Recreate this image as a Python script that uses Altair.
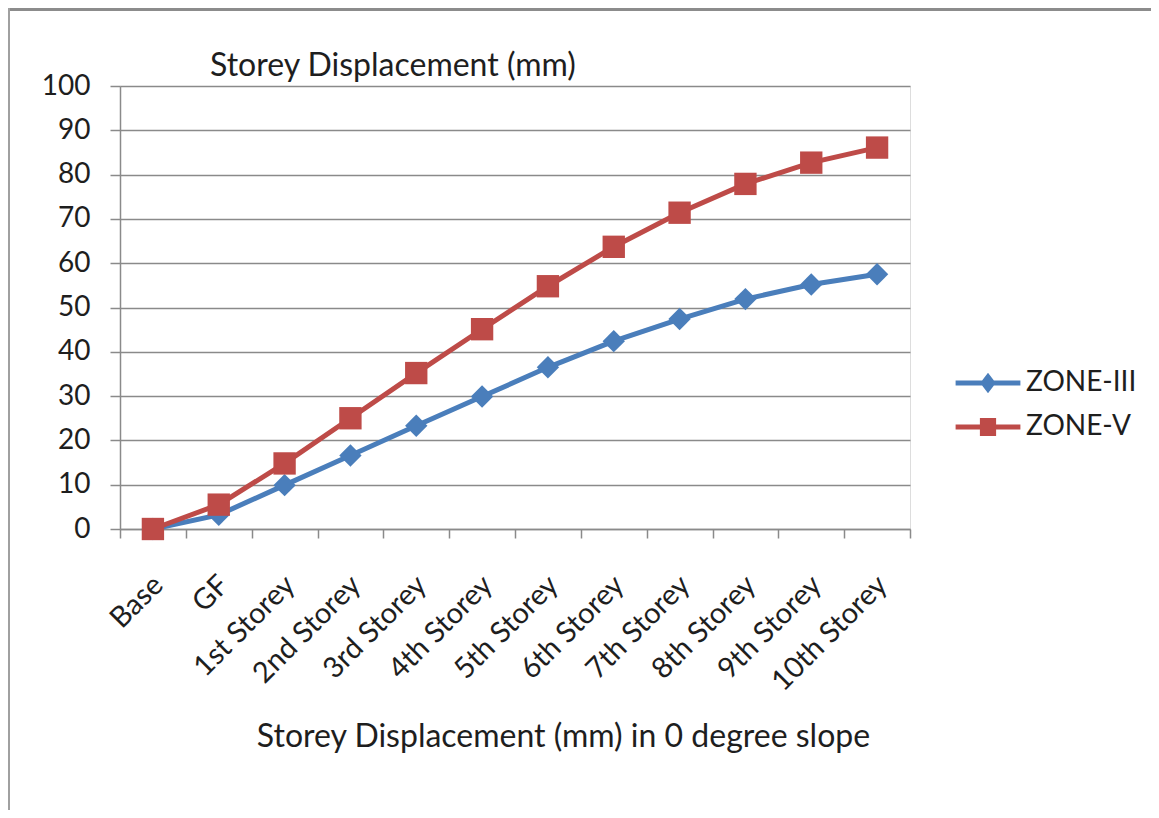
import altair as alt
import pandas as pd

categories = ["Base", "GF", "1st Storey", "2nd Storey", "3rd Storey", "4th Storey",
              "5th Storey", "6th Storey", "7th Storey", "8th Storey", "9th Storey", "10th Storey"]
zone_iii = [0, 3.2, 9.9, 16.6, 23.3, 29.9, 36.5, 42.4, 47.4, 51.9, 55.2, 57.5]
zone_v = [0, 5.5, 14.8, 25.0, 35.2, 45.1, 54.8, 63.7, 71.4, 77.9, 82.7, 86.1]
series_names = ["ZONE-III", "ZONE-V"]
series_colors = ["#4A7EBB", "#BE4B48"]
y_ticks = [0, 10, 20, 30, 40, 50, 60, 70, 80, 90, 100]

rows = []
for name, vals in zip(series_names, [zone_iii, zone_v]):
    for c, v in zip(categories, vals):
        rows.append({"storey": c, "disp": v, "zone": name})
df = pd.DataFrame(rows)

FONT = "Lato"
GRID = "#8a8a8a"
TXT = "#1e1e1e"

W, H = 790, 443
PL, PT = 112, 78
TOTAL_W, TOTAL_H = 1143, 802

x_enc = alt.X(
    "storey:N", sort=categories,
    scale=alt.Scale(type="band", paddingInner=0, paddingOuter=0),
    axis=alt.Axis(
        title="Storey Displacement (mm) in 0 degree slope",
        labelAngle=-45, labelAlign="right", labelBaseline="middle",
        labelFontSize=29, labelPadding=42, labelOffset=5, labelColor=TXT, labelFont=FONT,
        tickBand="extent", tickSize=9, tickColor=GRID, tickWidth=1.5,
        domainColor=GRID, domainWidth=1.5, grid=False,
        titleFontSize=32, titleFontWeight="normal", titleColor=TXT, titleFont=FONT,
        titleX=443, titleY=207, titleAlign="center", titleBaseline="middle",
    ),
)
y_enc = alt.Y(
    "disp:Q",
    scale=alt.Scale(domain=[0, 100], nice=False),
    axis=alt.Axis(
        title=None, values=y_ticks, labelFontSize=28, labelPadding=20, labelColor=TXT,
        labelFont=FONT, tickSize=10, tickColor=GRID, tickWidth=1.5,
        domainColor=GRID, domainWidth=1.5, grid=True, gridColor=GRID, gridWidth=1.5,
    ),
)

color_plain = alt.Color("zone:N", scale=alt.Scale(domain=series_names, range=series_colors), legend=None)

lines = alt.Chart(df).mark_line(strokeWidth=5).encode(
    x=x_enc, y=y_enc, color=color_plain, detail="zone:N"
)
points = alt.Chart(df).mark_point(filled=True, opacity=1, size=500).encode(
    x=x_enc, y=y_enc, color=color_plain,
    shape=alt.Shape("zone:N", scale=alt.Scale(domain=series_names, range=["diamond", "square"]), legend=None),
)

legend_paths = [
    "M-1.08,-0.085H1.08V0.085H-1.08Z M0,-0.34L0.26,0L0,0.34L-0.26,0Z",
    "M-1.08,-0.085H1.08V0.085H-1.08Z M-0.27,-0.3H0.27V0.3H-0.27Z",
]
leg = alt.Legend(
    title=None, orient="none", legendX=838, legendY=267, symbolSize=3600,
    symbolStrokeWidth=0, labelFontSize=28, labelFont=FONT, labelColor=TXT,
    labelOffset=8, rowPadding=0, padding=0, symbolOpacity=1,
)
legend_layer = alt.Chart(df).transform_filter("false").mark_point(filled=True, opacity=1).encode(
    color=alt.Color("zone:N", scale=alt.Scale(domain=series_names, range=series_colors), legend=leg),
    shape=alt.Shape("zone:N", scale=alt.Scale(domain=series_names, range=legend_paths), legend=leg),
)

frame_df = pd.DataFrame({"k": [0]})
top_rule = alt.Chart(frame_df).mark_rule(color="#8c8c8c", strokeWidth=3).encode(
    x=alt.value(-PL), x2=alt.value(TOTAL_W - PL), y=alt.value(-PT + 1.5)
)
left_rule = alt.Chart(frame_df).mark_rule(color="#a0a0a0", strokeWidth=2).encode(
    x=alt.value(-PL + 1), y=alt.value(-PT), y2=alt.value(TOTAL_H - PT)
)

chart = alt.layer(top_rule, left_rule, lines, points, legend_layer).resolve_scale(
    color="independent", shape="independent"
).properties(
    width=W, height=H,
    autosize=alt.AutoSizeParams(type="none"),
    padding={"left": PL, "top": PT, "right": TOTAL_W - PL - W, "bottom": TOTAL_H - PT - H},
    title=alt.TitleParams(
        "Storey Displacement (mm)", anchor="start", frame="group", fontSize=32,
        fontWeight="normal", color=TXT, font=FONT, dx=90, offset=0, dy=101,
        baseline="alphabetic",
    ),
).configure_view(stroke=None).configure(background="white")

chart.save("out.html", embed_options={"renderer": "svg", "actions": False})
